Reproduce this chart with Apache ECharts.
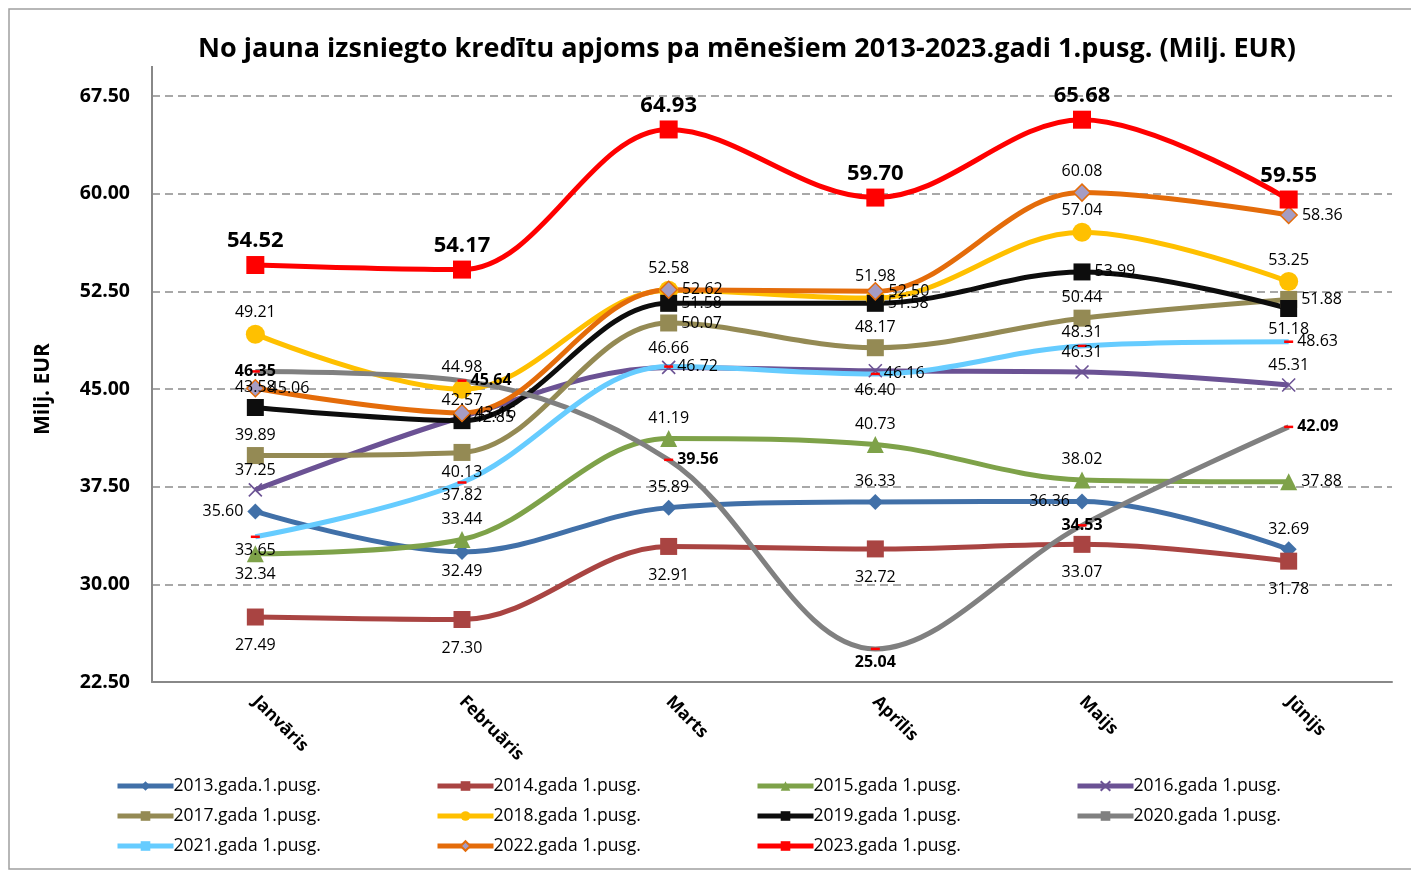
<!DOCTYPE html>
<html>
<head>
<meta charset="utf-8">
<script src="https://cdn.jsdelivr.net/npm/echarts@6/dist/echarts.min.js"></script>
<style>
  html, body { margin: 0; padding: 0; background: #fff; }
  #chart { width: 1411px; height: 871px; }
</style>
</head>
<body>
<div id="chart"></div>
<script>
const categories = ["Janvāris", "Februāris", "Marts", "Aprīlis", "Maijs", "Jūnijs"];
const yTicks = [22.5, 30, 37.5, 45, 52.5, 60, 67.5];

const y2013 = [35.60, 32.49, 35.89, 36.33, 36.36, 32.69];
const y2014 = [27.49, 27.30, 32.91, 32.72, 33.07, 31.78];
const y2015 = [32.34, 33.44, 41.19, 40.73, 38.02, 37.88];
const y2016 = [37.25, 42.85, 46.66, 46.40, 46.31, 45.31];
const y2017 = [39.89, 40.13, 50.07, 48.17, 50.44, 51.88];
const y2018 = [49.21, 44.98, 52.58, 51.98, 57.04, 53.25];
const y2019 = [43.58, 42.57, 51.58, 51.58, 53.99, 51.18];
const y2020 = [46.35, 45.64, 39.56, 25.04, 34.53, 42.09];
const y2021 = [33.65, 37.82, 46.72, 46.16, 48.31, 48.63];
const y2022 = [45.06, 43.16, 52.62, 52.50, 60.08, 58.36];
const y2023 = [54.52, 54.17, 64.93, 59.70, 65.68, 59.55];

const FONT = "Open Sans";
const crossPath = "path://M0,0L10,10M10,0L0,10";

// series style + where each point's label sits
const defs = [
  { name: "2013.gada.1.pusg.", data: y2013, color: "#4170a8", symbol: "diamond", size: 16,
    pos: ["left", "bottom", "top", "top", "left", "top"] },
  { name: "2014.gada 1.pusg.", data: y2014, color: "#a94442", symbol: "rect", size: 17,
    pos: ["bottom", "bottom", "bottom", "bottom", "bottom", "bottom"], dist: 12 },
  { name: "2015.gada 1.pusg.", data: y2015, color: "#7ea249", symbol: "triangle", size: 17,
    pos: ["bottom", "top", "top", "top", "top", "right"] },
  { name: "2016.gada 1.pusg.", data: y2016, color: "#6b5294", symbol: crossPath, size: 13,
    cross: true, pos: ["top", "right", "top", "bottom", "top", "top"] },
  { name: "2017.gada 1.pusg.", data: y2017, color: "#948a54", symbol: "rect", size: 17,
    pos: ["top", "bottom", "right", "top", "top", "right"] },
  { name: "2018.gada 1.pusg.", data: y2018, color: "#ffc000", symbol: "circle", size: 19,
    pos: ["top", "top", "top", "top", "top", "top"] },
  { name: "2019.gada 1.pusg.", data: y2019, color: "#0d0d0d", symbol: "rect", size: 17,
    pos: ["top", "top", "right", "right", "right", "bottom"] },
  { name: "2020.gada 1.pusg.", data: y2020, color: "#808080", symbol: "rect", size: [9, 2.5],
    markColor: "#ff0000", bold: true, pos: ["inside", "right", "right", "bottom", "inside", "right"] },
  { name: "2021.gada 1.pusg.", data: y2021, color: "#66ccff", symbol: "rect", size: [9, 2.5],
    markColor: "#ff0000", pos: ["bottom", "bottom", "right", "right", "top", "right"] },
  { name: "2022.gada 1.pusg.", data: y2022, color: "#e46c0a", symbol: "diamond", size: 17,
    markColor: "#a59cc3", border: "#e46c0a", pos: ["right", "right", "right", "right", "top", "right"] },
  { name: "2023.gada 1.pusg.", data: y2023, color: "#ff0000", symbol: "rect", size: 18,
    big: true, pos: ["top", "top", "top", "top", "top", "top"] }
];

const series = defs.map(d => ({
  name: d.name,
  type: "line",
  smooth: 0.35,
  data: d.data.map((v, i) => ({
    value: v,
    label: { position: d.pos[i] }
  })),
  symbol: d.symbol,
  symbolSize: d.size,
  showAllSymbol: true,
  lineStyle: { color: d.color, width: 5 },
  itemStyle: d.cross
    ? { color: d.color, borderColor: d.color, borderWidth: 1.6 }
    : { color: d.markColor || d.color, borderColor: d.border || d.markColor || d.color, borderWidth: d.border ? 1.5 : 0 },
  label: {
    show: true,
    color: "#000",
    fontFamily: FONT,
    fontSize: d.big ? 22 : 16,
    fontWeight: d.big || d.bold ? "bold" : "normal",
    distance: d.dist || 4,
    formatter: p => p.value.toFixed(2)
  },
  emphasis: { disabled: true }
}));

function legendItem(d) {
  const item = { name: d.name, lineStyle: { width: 5, color: d.color } };
  if (Array.isArray(d.size)) item.itemStyle = { color: d.color, borderWidth: 0 };
  return item;
}

const columns = [
  [defs[0], defs[4], defs[8]],
  [defs[1], defs[5], defs[9]],
  [defs[2], defs[6], defs[10]],
  [defs[3], defs[7]]
];
const legendLeft = [110, 430, 750, 1070];

const chart = echarts.init(document.getElementById("chart"), null, { renderer: "canvas" });
chart.setOption({
  backgroundColor: "#fff",
  animation: false,
  title: {
    text: "No jauna izsniegto kredītu apjoms pa mēnešiem 2013-2023.gadi 1.pusg. (Milj. EUR)",
    left: 742,
    textAlign: "center",
    top: 31,
    textStyle: { fontFamily: FONT, fontSize: 27, fontWeight: "bold", color: "#000" }
  },
  legend: columns.map((items, i) => ({
    data: items.map(legendItem),
    orient: "vertical",
    left: legendLeft[i],
    top: 772,
    itemWidth: 56,
    itemHeight: 12,
    itemGap: 12,
    textStyle: { fontFamily: FONT, fontSize: 17.5, color: "#000", padding: [0, 0, 0, -5] },
    selectedMode: false
  })),
  grid: { left: 152, right: 19, top: 96, bottom: 189 },
  xAxis: {
    type: "category",
    data: categories,
    boundaryGap: true,
    axisLine: { lineStyle: { color: "#888", width: 2 } },
    axisTick: { show: false },
    axisLabel: {
      rotate: -45,
      margin: 17,
      interval: 0,
      fontFamily: FONT,
      fontSize: 17.5,
      fontWeight: "bold",
      color: "#000"
    }
  },
  yAxis: {
    type: "value",
    min: yTicks[0],
    max: yTicks[yTicks.length - 1],
    interval: 7.5,
    name: "Milj. EUR",
    nameLocation: "middle",
    nameRotate: 90,
    nameGap: 98,
    nameTextStyle: { fontFamily: FONT, fontSize: 21, fontWeight: "bold", color: "#000" },
    axisLine: { show: true, lineStyle: { color: "#888", width: 2 } },
    axisTick: { show: false },
    axisLabel: {
      margin: 22,
      fontFamily: FONT,
      fontSize: 19.5,
      fontWeight: "bold",
      color: "#000",
      formatter: v => v.toFixed(2)
    },
    splitLine: { lineStyle: { color: "#8c8c8c", type: [8, 5], width: 1.5 } }
  },
  graphic: [
    {
      type: "rect",
      shape: { x: 9, y: 9, width: 1420, height: 860 },
      style: { fill: "none", stroke: "#a0a0a0", lineWidth: 1.5 },
      silent: true
    },
    {
      type: "line",
      shape: { x1: 152, y1: 66, x2: 152, y2: 96 },
      style: { stroke: "#888", lineWidth: 2 },
      silent: true
    }
  ],
  series: series
});
</script>
</body>
</html>
